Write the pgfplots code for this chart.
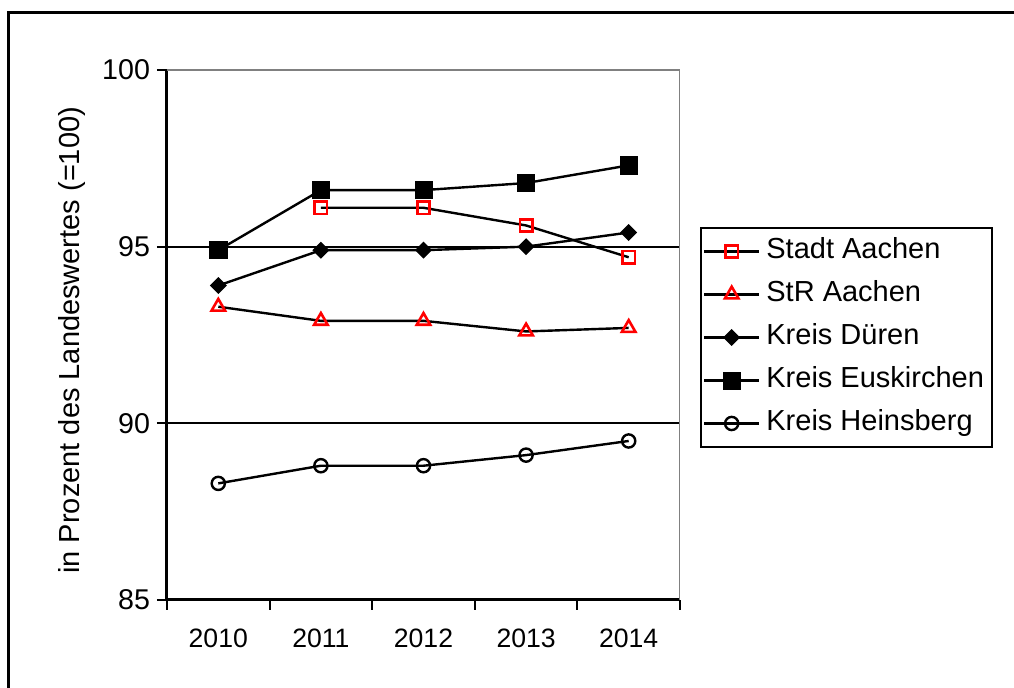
\documentclass[border=0pt]{standalone}
\usepackage{fontspec}
\setmainfont{Liberation Sans}
\usepackage{pgfplots}
\pgfplotsset{compat=1.18}
\definecolor{xlred}{RGB}{255,0,0}
\definecolor{xlgrey}{RGB}{128,128,128}
\begin{document}
\begin{tikzpicture}[x=1pt,y=1pt]
\useasboundingbox (0,0) rectangle (507,344);
\draw[line width=1.5pt] (4,-3) -- (4,337.5) -- (510,337.5);
\begin{axis}[
  at={(83.5pt,44pt)}, anchor=south west,
  scale only axis, width=256.5pt, height=265pt,
  xmin=-0.5, xmax=4.5, ymin=85, ymax=100,
  axis lines*=left, axis line style={-, line width=1.5pt, black},
  xtick={-0.5,0.5,1.5,2.5,3.5,4.5},
  x tick label as interval,
  xticklabels={2010,2011,2012,2013,2014},
  ytick={85,90,95,100},
  tick align=outside, major tick length=5pt,
  tick style={black, line width=1pt},
  extra y ticks={90,95}, extra y tick labels={},
  extra y tick style={grid=major, major tick length=0pt, grid style={black, line width=1pt}},
  /pgf/number format/assume math mode=true,
  yticklabel style={font=\fontsize{14.3}{16}\selectfont},
  xticklabel style={font=\fontsize{13.3}{15}\selectfont, yshift=-6pt},
  ylabel={in Prozent des Landeswertes (=100)},
  ylabel style={font=\fontsize{14.5}{17}\selectfont, at={(axis description cs:-0.185,0.49)}, anchor=center},
  legend style={at={(axis description cs:1.039,0.7038)}, anchor=north west,
    draw=black, line width=1pt, fill=white, inner sep=1pt,
    font=\fontsize{14.5}{17}\selectfont,
    nodes={text height=11pt, text depth=3.5pt, inner ysep=3.5pt, inner xsep=3pt}},
  legend cell align=left,
  legend image code/.code={\draw[mark repeat=2,mark phase=2,#1] plot coordinates {(0pt,0pt) (13.75pt,0pt) (27.5pt,0pt)};},
  every axis plot/.append style={line width=1.2pt, black},
]
\addplot[mark=square, mark size=3.1pt, mark options={draw=xlred, line width=1.3pt}]
  coordinates {(1,96.1) (2,96.1) (3,95.6) (4,94.7)};
\addlegendentry{Stadt Aachen}
\addplot[mark=triangle, mark size=3.9pt, mark options={draw=xlred, line width=1.3pt}]
  coordinates {(0,93.3) (1,92.9) (2,92.9) (3,92.6) (4,92.7)};
\addlegendentry{StR Aachen}
\addplot[mark=square*, mark size=2.7pt, mark options={rotate=45, fill=black, draw=black, line width=0.6pt}]
  coordinates {(0,93.9) (1,94.9) (2,94.9) (3,95.0) (4,95.4)};
\addlegendentry{Kreis Düren}
\addplot[mark=square*, mark size=4.3pt, mark options={fill=black, draw=black, line width=0.3pt}]
  coordinates {(0,94.9) (1,96.6) (2,96.6) (3,96.8) (4,97.3)};
\addlegendentry{Kreis Euskirchen}
\addplot[mark=o, mark size=3.3pt, mark options={fill=white, draw=black, line width=1.2pt}]
  coordinates {(0,88.3) (1,88.8) (2,88.8) (3,89.1) (4,89.5)};
\addlegendentry{Kreis Heinsberg}
\draw[xlgrey, line width=1pt] (rel axis cs:0,1) -- (rel axis cs:1,1) -- (rel axis cs:1,0);
\end{axis}
\end{tikzpicture}
\end{document}
